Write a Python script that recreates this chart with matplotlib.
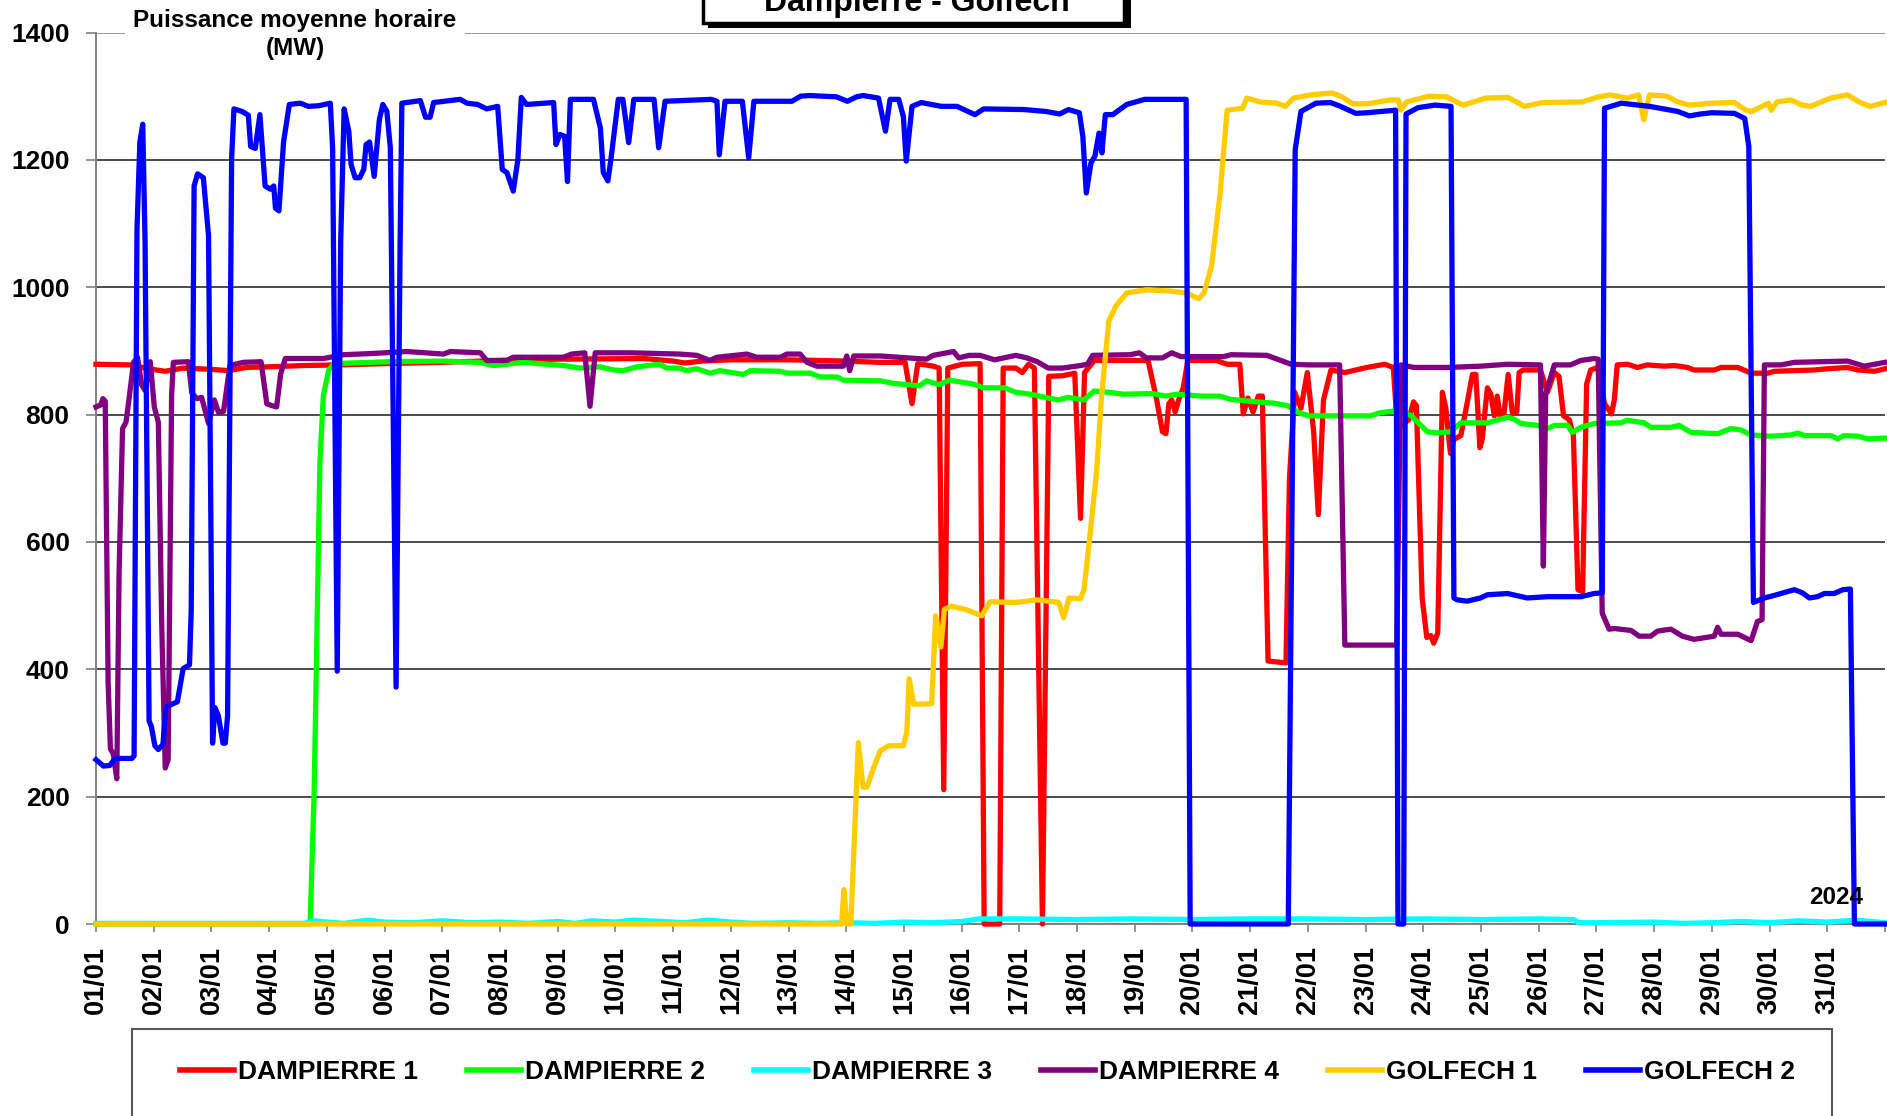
import matplotlib
matplotlib.use("Agg")
import matplotlib.pyplot as plt
from matplotlib.patches import Rectangle

plt.rcParams['font.family'] = ['Liberation Sans', 'DejaVu Sans']
plt.rcParams['font.weight'] = 'bold'

# === Données (jour du mois en fraction, puissance en MW) ===
d1_t = [0, 0.6, 0.9, 1.2, 1.5, 2.0, 2.3, 2.6, 3.0, 3.6, 4.2, 5.0, 6.0, 7.0, 8.0, 9.5, 10.0, 10.2, 10.5, 11.0,
        12.0, 13.0, 13.58, 14.02, 14.14, 14.24, 14.51, 14.61, 14.69, 14.76, 15.01, 15.32, 15.39, 15.66, 15.72,
        15.94, 16.05, 16.16, 16.26, 16.4, 16.51, 16.75, 16.96, 17.06, 17.13, 17.3, 18.23, 18.29, 18.38, 18.48,
        18.54, 18.59, 18.64, 18.7, 18.76, 18.84, 18.92, 19.41, 19.6, 19.82, 19.88, 19.96, 20.05, 20.14, 20.21,
        20.31, 20.62, 20.68, 20.77, 20.88, 20.99, 21.1, 21.18, 21.27, 21.4, 21.64, 22.02, 22.33, 22.48, 22.55,
        22.75, 22.83, 22.88, 22.98, 23.06, 23.13, 23.18, 23.25, 23.33, 23.39, 23.47, 23.53, 23.65, 23.77, 23.85,
        23.91, 23.98, 24.02, 24.11, 24.17, 24.23, 24.28, 24.33, 24.39, 24.47, 24.54, 24.62, 24.66, 24.73, 25.03,
        25.15, 25.27, 25.35, 25.43, 25.53, 25.6, 25.68, 25.76, 25.83, 25.9, 26.02, 26.14, 26.26, 26.31, 26.36,
        26.54, 26.71, 26.88, 27.17, 27.35, 27.58, 27.69, 28.04, 28.16, 28.45, 28.68, 28.97, 29.08, 29.77, 30.01,
        30.35, 30.53, 30.82, 31.0]
d1_v = [879, 878, 872, 868, 873, 871, 869, 874, 875, 877, 878, 880, 882, 885, 887, 888, 884, 881, 884, 886,
        886, 884, 882, 882, 817, 880, 876, 873, 211, 873, 879, 880, 0, 0, 873,
        873, 866, 879, 873, 0, 860, 861, 865, 637, 866, 885, 885, 860, 823, 773,
        770, 817, 823, 804, 823, 842, 885, 885, 879, 879, 801, 826, 804, 829, 829,
        413, 410, 699, 835, 810, 866, 773, 643, 823, 870, 866, 874, 879, 874, 779,
        792, 820, 814, 512, 450, 453, 441, 457, 835, 810, 739, 761, 767, 823, 863,
        863, 748, 761, 842, 832, 798, 829, 798, 795, 863, 804, 804, 866, 870, 870,
        835, 866, 860, 798, 792, 767, 525, 522, 848, 870, 874, 817, 801, 823, 878,
        879, 874, 878, 876, 877, 874, 870, 870, 874, 874, 865, 865, 868, 870, 872,
        874, 870, 868, 872]

d2_t = [0, 3.71, 3.78, 3.83, 3.88, 3.94, 4.03, 4.12, 5.1, 6.0, 6.65, 6.88, 7.0, 7.4, 8.1, 8.39, 8.73, 8.97,
        9.14, 9.37, 9.77, 9.89, 10.12, 10.23, 10.41, 10.64, 10.81, 11.22, 11.34, 11.86, 11.97, 12.38, 12.55,
        12.84, 12.95, 13.59, 13.82, 14.27, 14.39, 14.61, 14.79, 15.2, 15.38, 15.75, 15.94, 16.19, 16.5, 16.68,
        16.84, 17.12, 17.3, 17.55, 17.8, 18.3, 18.54, 18.73, 19.16, 19.47, 19.66, 20.09, 20.4, 20.65, 20.84,
        21.02, 21.4, 22.08, 22.26, 22.52, 22.78, 23.07, 23.24, 23.47, 23.65, 24.11, 24.46, 24.57, 24.69, 24.98,
        25.15, 25.27, 25.5, 25.58, 25.73, 25.96, 26.42, 26.53, 26.83, 26.94, 27.29, 27.43, 27.64, 28.1, 28.33,
        28.5, 28.68, 29.02, 29.37, 29.49, 29.6, 30.06, 30.18, 30.29, 30.53, 30.7, 31.0]
d2_v = [0, 0, 206, 466, 726, 830, 869, 880, 883, 884, 882, 877, 878, 882, 877, 873, 875, 870,
        869, 875, 879, 873, 873, 869, 872, 865, 869, 863, 869, 868, 865, 865, 859,
        859, 854, 853, 849, 845, 853, 847, 854, 848, 842, 842, 835, 832, 826, 823,
        827, 823, 837, 835, 832, 833, 829, 832, 829, 829, 824, 820, 818, 814, 803,
        798, 798, 798, 803, 806, 799, 773, 771, 773, 787, 787, 796, 793, 786, 783,
        778, 783, 783, 772, 780, 786, 787, 791, 787, 780, 780, 783, 772, 770, 778,
        776, 768, 766, 768, 771, 767, 767, 762, 767, 766, 762, 763]

d3_t = [0, 3.6, 3.8, 4.0, 4.3, 4.7, 5.0, 5.5, 6.0, 6.5, 7.0, 7.5, 8.0, 8.3, 8.6, 9.0, 9.3, 9.8, 10.2, 10.6,
        11.0, 11.4, 12.0, 12.5, 13.0, 13.5, 14.0, 14.5, 15.0, 15.3, 16.0, 17.0, 18.0, 19.0, 20.0, 21.0, 22.0,
        23.0, 24.0, 25.0, 25.6, 25.7, 26.0, 27.0, 27.5, 28.0, 28.5, 29.0, 29.5, 30.0, 30.5, 31.0]
d3_v = [1, 1, 5, 3, 1, 6, 3, 2, 5, 2, 3, 1, 4, 1, 5, 3, 6, 4, 2, 6,
        3, 1, 2, 1, 2, 1, 3, 2, 4, 8, 8, 7, 8, 7, 8, 8, 7,
        8, 7, 8, 7, 2, 2, 3, 1, 2, 4, 2, 5, 3, 6, 2]

d4_t = [0, 0.08, 0.12, 0.16, 0.21, 0.25, 0.3, 0.36, 0.4, 0.46, 0.52, 0.58, 0.65, 0.72, 0.79, 0.85, 0.94, 1.01,
        1.08, 1.14, 1.2, 1.25, 1.31, 1.34, 1.6, 1.66, 1.75, 1.83, 1.95, 2.05, 2.12, 2.21, 2.32, 2.55, 2.86,
        2.96, 3.05, 3.13, 3.2, 3.28, 3.94, 4.29, 4.81, 5.39, 6.02, 6.14, 6.66, 6.77, 7.12, 7.23, 8.1, 8.24,
        8.47, 8.56, 8.65, 9.25, 10.12, 10.41, 10.64, 10.76, 11.28, 11.45, 11.86, 11.97, 12.2, 12.32, 12.49,
        12.95, 13.01, 13.06, 13.13, 13.59, 14.39, 14.51, 14.86, 14.95, 15.13, 15.32, 15.57, 15.94, 16.13,
        16.31, 16.5, 16.75, 17.06, 17.18, 17.27, 17.92, 18.08, 18.2, 18.48, 18.64, 18.8, 19.54, 19.67, 20.29,
        20.53, 20.71, 21.02, 21.55, 21.64, 22.54, 22.61, 22.84, 23.42, 23.99, 24.46, 25.03, 25.08, 25.12,
        25.27, 25.55, 25.73, 25.96, 26.03, 26.1, 26.22, 26.31, 26.6, 26.74, 26.94, 27.06, 27.29, 27.49, 27.69,
        28.04, 28.1, 28.16, 28.45, 28.68, 28.79, 28.87, 28.91, 29.2, 29.43, 30.35, 30.64, 31.0]
d4_v = [812, 815, 825, 821, 379, 275, 267, 228, 552, 778, 788, 830, 882, 890, 847, 838, 883, 812,
        788, 466, 245, 258, 830, 882, 883, 834, 825, 827, 786, 823, 804, 805, 877, 882, 883,
        817, 814, 812, 864, 888, 888, 894, 896, 899, 895, 899, 897, 885, 885, 890, 890, 895,
        897, 813, 897, 897, 895, 893, 885, 890, 895, 890, 890, 895, 895, 882, 876,
        876, 892, 869, 892, 892, 887, 893, 899, 889, 893, 893, 886, 893, 889,
        883, 873, 873, 877, 879, 893, 894, 897, 889, 889, 897, 891, 891, 894, 893,
        885, 879, 878, 878, 438, 438, 878, 874, 874, 876, 879, 878, 562, 832,
        878, 878, 885, 888, 887, 488, 463, 464, 461, 452, 452, 460, 463, 452, 447,
        452, 466, 455, 455, 445, 475, 478, 878, 878, 882, 884, 876, 882]

g1_t = [0, 12.92, 12.96, 13.01, 13.08, 13.13, 13.21, 13.29, 13.36, 13.47, 13.59, 13.74, 13.99, 14.05, 14.09,
        14.17, 14.48, 14.55, 14.64, 14.7, 14.82, 15.07, 15.35, 15.49, 15.94, 16.31, 16.68, 16.77, 16.86, 17.06,
        17.12, 17.21, 17.34, 17.42, 17.55, 17.62, 17.67, 17.86, 18.21, 18.6, 18.89, 19.11, 19.2, 19.33, 19.48,
        19.6, 19.87, 19.94, 20.17, 20.46, 20.61, 20.75, 21.05, 21.42, 21.59, 21.78, 22.03, 22.42, 22.57, 22.61,
        22.71, 23.1, 23.4, 23.69, 24.08, 24.47, 24.75, 25.06, 25.75, 26.04, 26.24, 26.53, 26.73, 26.82, 26.92,
        27.22, 27.41, 27.61, 28.0, 28.39, 28.59, 28.69, 28.98, 29.03, 29.13, 29.37, 29.57, 29.71, 30.06, 30.35,
        30.55, 30.74, 31.0]
g1_v = [0, 0, 54, 0, 0, 109, 285, 215, 215, 244, 272, 280, 280, 301, 385,
        345, 346, 484, 435, 494, 499, 494, 484, 506, 505, 509, 505, 481, 512, 511,
        525, 599, 711, 824, 947, 960, 970, 991, 996, 994, 991, 982, 991, 1033, 1148,
        1278, 1281, 1297, 1291, 1289, 1284, 1297, 1302, 1305, 1299, 1288, 1288, 1294, 1294, 1278,
        1291, 1300, 1299, 1286, 1297, 1298, 1284, 1290, 1291, 1299, 1302, 1297, 1302, 1263, 1302,
        1300, 1291, 1286, 1289, 1290, 1278, 1276, 1289, 1278, 1291, 1294, 1286, 1284, 1297, 1302,
        1291, 1284, 1290]

g2_t = [0, 0.13, 0.24, 0.33, 0.62, 0.66, 0.71, 0.76, 0.81, 0.85, 0.92, 0.96, 1.02, 1.08, 1.16, 1.21, 1.31,
        1.41, 1.51, 1.62, 1.65, 1.7, 1.76, 1.86, 1.95, 1.99, 2.02, 2.06, 2.12, 2.2, 2.24, 2.28, 2.35, 2.39,
        2.53, 2.64, 2.68, 2.76, 2.84, 2.93, 3.02, 3.08, 3.11, 3.17, 3.25, 3.35, 3.54, 3.68, 3.86, 4.06, 4.1,
        4.18, 4.24, 4.3, 4.38, 4.42, 4.49, 4.57, 4.64, 4.68, 4.74, 4.82, 4.91, 4.97, 5.04, 5.1, 5.2, 5.27,
        5.3, 5.62, 5.71, 5.79, 5.85, 6.31, 6.43, 6.61, 6.77, 6.96, 7.04, 7.12, 7.23, 7.31, 7.37, 7.46, 7.93,
        7.97, 8.04, 8.12, 8.17, 8.22, 8.62, 8.74, 8.79, 8.87, 8.93, 9.05, 9.13, 9.23, 9.32, 9.67, 9.75, 9.86,
        10.66, 10.76, 10.8, 10.9, 11.2, 11.31, 11.4, 12.06, 12.21, 12.36, 12.83, 13.02, 13.18, 13.29, 13.56,
        13.68, 13.76, 13.91, 13.99, 14.04, 14.14, 14.3, 14.65, 14.92, 15.23, 15.38, 16.08, 16.46, 16.7, 16.85,
        17.04, 17.1, 17.16, 17.24, 17.31, 17.38, 17.43, 17.49, 17.62, 17.86, 18.17, 18.89, 18.96, 20.66, 20.78,
        20.88, 21.14, 21.39, 21.54, 21.83, 22.03, 22.52, 22.56, 22.66, 22.7, 22.91, 23.2, 23.48, 23.53, 23.59,
        23.76, 23.99, 24.11, 24.46, 24.8, 25.15, 25.73, 25.96, 26.1, 26.14, 26.43, 26.92, 27.41, 27.61, 27.8,
        28.0, 28.39, 28.57, 28.64, 28.72, 28.91, 29.08, 29.43, 29.57, 29.69, 29.83, 29.95, 30.12, 30.27, 30.4,
        30.47, 31.0]
g2_v = [258, 248, 249, 260, 260, 264, 1090, 1228, 1256, 1072, 319, 310, 280, 274, 282, 340, 345,
        349, 401, 407, 492, 1159, 1178, 1172, 1081, 639, 284, 340, 327, 284, 284, 327, 1202, 1280,
        1276, 1270, 1221, 1218, 1271, 1159, 1154, 1159, 1124, 1120, 1228, 1287, 1289, 1284, 1285, 1289, 1219,
        397, 1072, 1280, 1245, 1193, 1172, 1172, 1185, 1224, 1228, 1174, 1263, 1287, 1276, 1219, 372, 1072,
        1289, 1293, 1267, 1267, 1290, 1295, 1289, 1287, 1280, 1284, 1185, 1180, 1151, 1200, 1298, 1287, 1290,
        1224, 1240, 1237, 1166, 1295, 1295, 1250, 1180, 1167, 1206, 1295, 1295, 1227, 1295, 1295, 1219, 1292,
        1295, 1292, 1208, 1292, 1292, 1203, 1292, 1292, 1300, 1301, 1299, 1292, 1299, 1301, 1297,
        1245, 1295, 1295, 1268, 1198, 1284, 1290, 1284, 1284, 1271, 1280, 1279, 1276, 1272, 1279,
        1274, 1237, 1148, 1195, 1206, 1242, 1211, 1271, 1271, 1287, 1295, 1295, 0, 0, 1216,
        1276, 1289, 1290, 1285, 1273, 1274, 1278, 0, 0, 1272, 1282, 1286, 1284, 512, 509,
        507, 512, 517, 519, 512, 514, 514, 519, 520, 1281, 1289, 1284, 1276, 1269, 1272,
        1274, 1273, 1265, 1221, 505, 512, 516, 525, 520, 512, 514, 519, 519, 525, 526,
        0, 0]

series = [
    ("DAMPIERRE 1", d1_t, d1_v, "#FF0000"),
    ("DAMPIERRE 2", d2_t, d2_v, "#00FF00"),
    ("DAMPIERRE 3", d3_t, d3_v, "#00FFFF"),
    ("DAMPIERRE 4", d4_t, d4_v, "#800080"),
    ("GOLFECH 1", g1_t, g1_v, "#FFCC00"),
    ("GOLFECH 2", g2_t, g2_v, "#0000FF"),
]
day_labels = ["%02d/01" % d for d in range(1, 32)]
y_ticks = [0, 200, 400, 600, 800, 1000, 1200, 1400]

W, H = 1887, 1116
fig = plt.figure(figsize=(W / 100, H / 100), dpi=100)
ax = fig.add_axes([96 / W, 1 - 924 / H, (1885 - 96) / W, (924 - 32.5) / H])

for i, (name, t, v, col) in enumerate(series):
    ax.plot(t, v, color=col, lw=3.8, label=name, zorder=3 + i, clip_on=False,
            solid_joinstyle='round')

ax.set_xlim(0, 31)
ax.set_ylim(0, 1400)
ax.set_xticks(range(0, 32))
ax.set_xticklabels(day_labels[:31] + [""], rotation=90, fontsize=19.5, fontweight='bold',
                   family=['Liberation Sans Narrow', 'Liberation Sans'])
ax.set_yticks(y_ticks)
ax.set_yticklabels([str(v) for v in y_ticks], fontsize=19, fontweight='bold')
ax.tick_params(axis='x', length=6, width=1.2, color='#808080', pad=10)
ax.tick_params(axis='y', length=7, width=1.2, color='#808080', pad=12)
ax.yaxis.grid(True, color='#1a1a1a', lw=1.1)
ax.get_ygridlines()[-1].set_color('#808080')
ax.set_axisbelow(True)
for s in ['top', 'right']:
    ax.spines[s].set_visible(False)
for s in ['left', 'bottom']:
    ax.spines[s].set_color('#808080')
    ax.spines[s].set_linewidth(1.4)

# === Titre encadré (coupé en haut, comme l'original) ===
fig.patches.append(Rectangle((708 / W, 1 - 28 / H), (1131 - 708) / W, 60 / H,
                             transform=fig.transFigure, facecolor='black', edgecolor='none', zorder=10))
fig.patches.append(Rectangle((703 / W, 1 - 23 / H), (1124 - 703) / W, 60 / H,
                             transform=fig.transFigure, facecolor='white', edgecolor='black', lw=2.5,
                             zorder=11))
fig.text(917 / W, 1 - 11 / H, "Dampierre - Golfech", ha='center', va='baseline',
         fontsize=23, fontweight='bold', zorder=12)

# === Titre de l'axe Y ===
fig.text(295 / W, 1 - 9 / H, "Puissance moyenne horaire\n(MW)", ha='center', va='top',
         fontsize=17.5, fontweight='bold', linespacing=1.3, zorder=12,
         bbox=dict(facecolor='white', edgecolor='none', pad=6))

ax.text(30.15, 31, "2024", ha='center', va='baseline', fontsize=17.5, fontweight='bold', zorder=20)

# === Légende ===
fig.patches.append(Rectangle((132 / W, -0.05), (1832 - 132) / W, 0.05 + (1116 - 1029) / H,
                             transform=fig.transFigure, facecolor='white', edgecolor='#595959', lw=1.5,
                             zorder=1))
leg = fig.legend(loc='center left', bbox_to_anchor=(180 / W, 1 - 1072 / H), ncol=6, frameon=False,
                 fontsize=19, handlelength=2.05, handletextpad=0.15, columnspacing=1.85,
                 borderpad=0, borderaxespad=0)
for line in leg.get_lines():
    line.set_linewidth(4)
for txt in leg.get_texts():
    txt.set_fontweight('bold')

fig.savefig("out.png", dpi=100)
